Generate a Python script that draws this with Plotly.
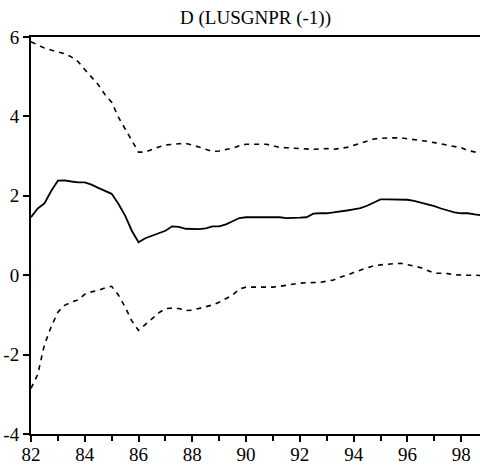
import numpy as np
import plotly.graph_objects as go

years = [82 + 0.25 * i for i in range(68)]

mid = [1.46, 1.68, 1.81, 2.12, 2.38, 2.39, 2.36, 2.34,
       2.34, 2.28, 2.20, 2.12, 2.05, 1.80, 1.50, 1.12,
       0.83, 0.93, 0.99, 1.05, 1.12, 1.23, 1.22, 1.17,
       1.16, 1.16, 1.18, 1.23, 1.23, 1.28, 1.36, 1.44,
       1.46, 1.46, 1.46, 1.46, 1.46, 1.46, 1.44, 1.44,
       1.45, 1.46, 1.55, 1.56, 1.56, 1.58, 1.60, 1.63,
       1.66, 1.69, 1.75, 1.84, 1.91, 1.91, 1.91, 1.91,
       1.90, 1.87, 1.83, 1.79, 1.74, 1.68, 1.63, 1.58,
       1.56, 1.56, 1.53, 1.51]

upper = [5.88, 5.80, 5.72, 5.67, 5.62, 5.58, 5.50, 5.38,
         5.18, 5.00, 4.80, 4.55, 4.36, 3.98, 3.68, 3.40,
         3.10, 3.10, 3.17, 3.23, 3.28, 3.30, 3.31, 3.32,
         3.28, 3.23, 3.17, 3.12, 3.13, 3.16, 3.20, 3.26,
         3.30, 3.30, 3.30, 3.30, 3.26, 3.22, 3.21, 3.20,
         3.18, 3.17, 3.17, 3.18, 3.19, 3.17, 3.19, 3.22,
         3.27, 3.32, 3.38, 3.43, 3.45, 3.46, 3.46, 3.46,
         3.44, 3.42, 3.39, 3.37, 3.34, 3.31, 3.28, 3.24,
         3.21, 3.14, 3.10, 3.07]

lower = [-2.85, -2.50, -1.75, -1.30, -0.93, -0.76, -0.68, -0.62,
         -0.48, -0.42, -0.38, -0.32, -0.28, -0.50, -0.80, -1.15,
         -1.39, -1.24, -1.08, -0.95, -0.84, -0.83, -0.84, -0.89,
         -0.88, -0.84, -0.80, -0.75, -0.68, -0.60, -0.50, -0.35,
         -0.30, -0.30, -0.30, -0.30, -0.30, -0.28, -0.25, -0.22,
         -0.20, -0.19, -0.18, -0.18, -0.15, -0.12, -0.05, 0.00,
         0.07, 0.13, 0.20, 0.24, 0.26, 0.28, 0.29, 0.30,
         0.27, 0.23, 0.19, 0.12, 0.05, 0.05, 0.04, 0.01,
         0.00, 0.00, 0.00, -0.01]

x_ticks = [82, 84, 86, 88, 90, 92, 94, 96, 98]
y_ticks = [-4, -2, 0, 2, 4, 6]
title_text = "D (LUSGNPR (-1))"

font = "Liberation Serif, Times New Roman, serif"

fig = go.Figure()
fig.add_trace(go.Scatter(x=years, y=upper, mode="lines",
                         line=dict(color="black", width=1.6, dash="5px,5px")))
fig.add_trace(go.Scatter(x=years, y=mid, mode="lines",
                         line=dict(color="black", width=1.8)))
fig.add_trace(go.Scatter(x=years, y=lower, mode="lines",
                         line=dict(color="black", width=1.6, dash="5px,5px")))

fig.update_layout(
    width=480, height=469,
    margin=dict(l=31, r=0, t=37, b=35),
    paper_bgcolor="white", plot_bgcolor="white",
    showlegend=False,
    font=dict(family=font, color="black", size=18),
    title=dict(text=title_text, x=0.5, xref="paper", xanchor="center",
               y=1 - 17 / 469, yanchor="middle",
               font=dict(family=font, size=19, color="black")),
)
fig.update_xaxes(range=[82, 98.7], tickvals=x_ticks,
                 ticktext=[str(v) for v in x_ticks],
                 ticks="outside", ticklen=6, tickwidth=1.5, tickcolor="black",
                 ticklabelstandoff=-4,
                 minor=dict(dtick=1, tick0=82, ticks="outside", ticklen=5,
                            tickwidth=1.5, tickcolor="black"),
                 showline=True, linecolor="black", linewidth=2, mirror=True,
                 showgrid=False, zeroline=False,
                 tickfont=dict(family=font, size=19))
fig.update_yaxes(range=[-4, 6], tickvals=y_ticks,
                 ticktext=[str(v) for v in y_ticks],
                 ticks="outside", ticklen=6, tickwidth=1.5, tickcolor="black",
                 showline=True, linecolor="black", linewidth=2, mirror=False,
                 showgrid=False, zeroline=False,
                 tickfont=dict(family=font, size=19))

fig.write_html("out.html")
